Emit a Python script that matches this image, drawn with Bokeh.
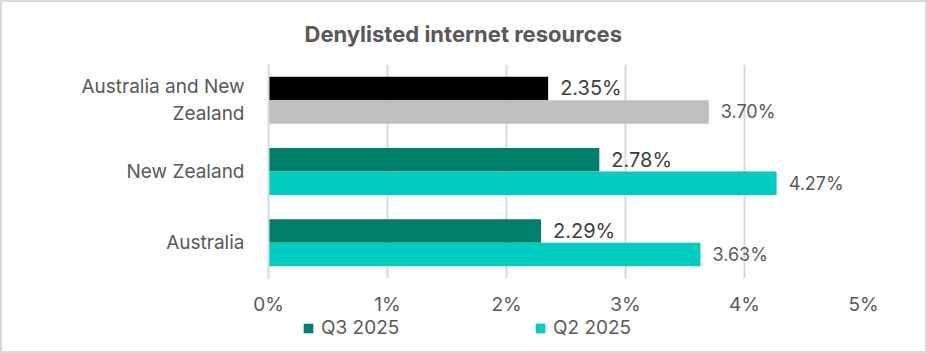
from bokeh.plotting import figure
from bokeh.layouts import column
from bokeh.models import (ColumnDataSource, FactorRange, Range1d, LabelSet, Legend,
                          LegendItem, FixedTicker, PrintfTickFormatter)
from bokeh.core.properties import value
from bokeh.transform import dodge
from bokeh.embed import file_html
from bokeh.resources import INLINE

# ---- data ----
categories = ["Australia", "New Zealand", "Australia and New\nZealand"]
q3_values = [2.29, 2.78, 2.35]
q2_values = [3.63, 4.27, 3.70]
series_names = ["Q3 2025", "Q2 2025"]
x_ticks = [0, 1, 2, 3, 4, 5]
title_text = "Denylisted internet resources"

# ---- style ----
FONT = "Inter"
TEAL_DARK = "#007F6A"
TEAL = "#00CCBF"
TOTAL_Q3 = "#000000"
TOTAL_Q2 = "#BFBFBF"
GRID = "#D9D9D9"
TXT = "#595959"
BAR_H = 0.33
OFF = 0.165

def fmt(v):
    return f"{v:.2f}%"

n_country = 2  # first two categories are single countries, last is the total
src_q3_c = ColumnDataSource(dict(cat=categories[:n_country], val=q3_values[:n_country]))
src_q2_c = ColumnDataSource(dict(cat=categories[:n_country], val=q2_values[:n_country]))
src_q3_t = ColumnDataSource(dict(cat=categories[n_country:], val=q3_values[n_country:]))
src_q2_t = ColumnDataSource(dict(cat=categories[n_country:], val=q2_values[n_country:]))
src_lbl_q3 = ColumnDataSource(dict(cat=categories, val=q3_values, lbl=[fmt(v) for v in q3_values]))
src_lbl_q2 = ColumnDataSource(dict(cat=categories, val=q2_values, lbl=[fmt(v) for v in q2_values]))

p = figure(width=923, height=316,
           y_range=FactorRange(*categories), x_range=Range1d(0, 5),
           output_backend="svg", toolbar_location=None,
           min_border_left=266, min_border_right=62,
           min_border_top=62, min_border_bottom=36)

p.hbar(y=dodge("cat", OFF, range=p.y_range), right="val", left=0, height=BAR_H,
       source=src_q3_c, fill_color=TEAL_DARK, line_color=None)
p.hbar(y=dodge("cat", -OFF, range=p.y_range), right="val", left=0, height=BAR_H,
       source=src_q2_c, fill_color=TEAL, line_color=None)
p.hbar(y=dodge("cat", OFF, range=p.y_range), right="val", left=0, height=BAR_H,
       source=src_q3_t, fill_color=TOTAL_Q3, line_color=None)
p.hbar(y=dodge("cat", -OFF, range=p.y_range), right="val", left=0, height=BAR_H,
       source=src_q2_t, fill_color=TOTAL_Q2, line_color=None)

lbl_q3 = LabelSet(x="val", y=dodge("cat", OFF, range=p.y_range), text="lbl", source=src_lbl_q3,
                  x_offset=12, text_baseline="middle", text_font=value(FONT),
                  text_font_size="20px", text_color="#404040")
lbl_q2 = LabelSet(x="val", y=dodge("cat", -OFF, range=p.y_range), text="lbl", source=src_lbl_q2,
                  x_offset=12, text_baseline="middle", text_font=value(FONT),
                  text_font_size="18px", text_color="#595959")
p.add_layout(lbl_q3)
p.add_layout(lbl_q2)

# title
p.title.text = title_text
p.title.align = "left"
p.title.offset = 36
p.title.vertical_align = "middle"
p.title.text_font = FONT
p.title.text_font_size = "22px"
p.title.text_font_style = "bold"
p.title.text_color = TXT
p.title.standoff = 34

# axes
p.xaxis.ticker = FixedTicker(ticks=x_ticks)
p.xaxis.formatter = PrintfTickFormatter(format="%d%%")
p.xaxis.axis_line_color = None
p.xaxis.major_tick_line_color = None
p.xaxis.minor_tick_line_color = None
p.xaxis.major_label_text_font = FONT
p.xaxis.major_label_text_font_size = "19px"
p.xaxis.major_label_text_line_height = 1.0
p.xaxis.major_label_text_color = TXT
p.xaxis.major_label_standoff = 8

p.yaxis.axis_line_color = GRID
p.yaxis.axis_line_width = 2
p.yaxis.major_tick_line_color = None
p.yaxis.minor_tick_line_color = None
p.yaxis.major_label_text_font = FONT
p.yaxis.major_label_text_font_size = "19px"
p.yaxis.major_label_text_color = TXT
p.yaxis.major_label_standoff = 18

p.xgrid.ticker = FixedTicker(ticks=x_ticks)
p.xgrid.grid_line_color = GRID
p.xgrid.grid_line_width = 2
p.ygrid.grid_line_color = None
p.outline_line_color = None

# legend strip below the chart (zero-height key bars carry the series colours)
leg = figure(width=923, height=33, x_range=Range1d(0, 5), y_range=FactorRange(*categories),
             output_backend="svg", toolbar_location=None,
             x_axis_location=None, y_axis_location=None,
             min_border_left=0, min_border_right=0, min_border_top=0, min_border_bottom=0)
leg.grid.visible = False
leg.outline_line_color = None
k_q3 = leg.hbar(y="cat", right="val", left=0, height=0, source=src_q3_c,
                fill_color=TEAL_DARK, line_color=None)
k_q2 = leg.hbar(y="cat", right="val", left=0, height=0, source=src_q2_c,
                fill_color=TEAL, line_color=None)
legend = Legend(items=[LegendItem(label=series_names[0], renderers=[k_q3]),
                       LegendItem(label=series_names[1], renderers=[k_q2])],
                orientation="horizontal", location=(34, 12),
                glyph_width=12, glyph_height=12, label_standoff=7,
                label_width=100, spacing=113, label_height=18,
                padding=0, margin=0, border_line_color=None, background_fill_alpha=0,
                label_text_font=FONT, label_text_font_size="19px",
                label_text_line_height=1.0, label_text_color=TXT)
leg.add_layout(legend, "center")

layout = column(p, leg, spacing=0, styles={"border": "2px solid #D9D9D9"})

open("out.html", "w").write(file_html(layout, INLINE))
